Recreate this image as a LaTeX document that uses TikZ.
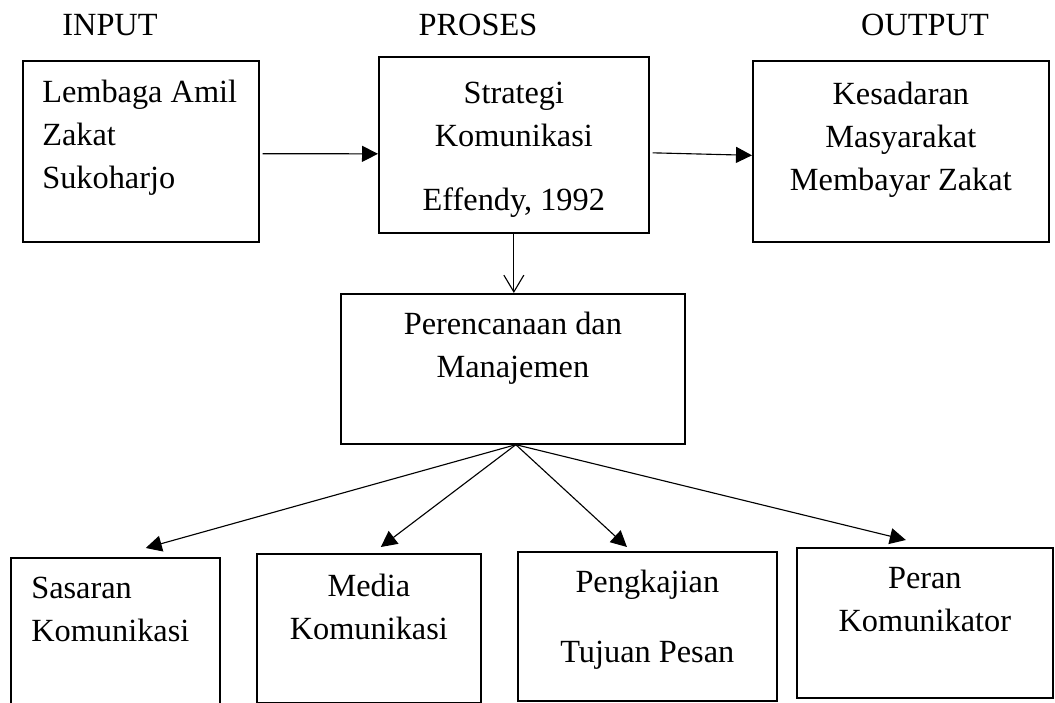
\documentclass[tikz,border=0pt]{standalone}
\usepackage{fontspec}
\setmainfont{Liberation Serif}
\usetikzlibrary{arrows.meta,positioning}

\begin{document}
\begin{tikzpicture}[
		kotak/.style={draw, line width=1.2pt, inner sep=0pt},
		isi/.style={inner sep=0pt, align=center, font=\fontsize{23}{30.5}\selectfont},
		judul/.style={inner sep=0pt, anchor=base, font=\fontsize{23}{30.5}\selectfont},
		panah/.style={line width=0.8pt, -{Triangle[length=0.4cm,width=0.4cm]}},
		panahbuka/.style={line width=0.8pt, -{Straight Barb[length=0.42cm,width=0.5cm]}}
	]
			%%%%% START %%%%%
			\useasboundingbox (0, 0) rectangle (26.375, 17.575);
			
			\node[judul] (input) at (2.75, 16.675) {INPUT};
			\node[judul] (proses) at (11.95, 16.675) {PROSES};
			\node[judul] (output) at (23.125, 16.675) {OUTPUT};
			
			\node[kotak, anchor=north west, minimum width=5.9cm, minimum height=4.525cm] (lembaga) at (0.55, 16.075) {};
			\node[kotak, anchor=north west, minimum width=6.75cm, minimum height=4.4cm] (strategi) at (9.45, 16.175) {};
			\node[kotak, anchor=north west, minimum width=7.4cm, minimum height=4.525cm] (kesadaran) at (18.8, 16.075) {};
			\node[kotak, anchor=north west, minimum width=8.6cm, minimum height=3.75cm] (perencanaan) at (8.5, 10.25) {};
			
			\node[kotak, anchor=north west, minimum width=5.225cm, minimum height=4.5cm] (sasaran) at (0.25, 3.65) {};
			\node[kotak, anchor=north west, minimum width=5.6cm, minimum height=3.725cm] (media) at (6.4, 3.75) {};
			\node[kotak, anchor=north west, minimum width=6.475cm, minimum height=3.725cm] (pengkajian) at (12.925, 3.8) {};
			\node[kotak, anchor=north west, minimum width=6.4cm, minimum height=3.75cm] (peran) at (19.9, 3.9) {};
			
			\node[isi, align=left, below right=0.5cm and 0.5cm of lembaga.north west] (tlembaga) {Lembaga Amil\\Zakat\\Sukoharjo};
			\node[isi, below=0.65cm of strategi.north] (tstrategi) {Strategi\\Komunikasi\\[15pt]Effendy, 1992};
			\node[isi, below=0.55cm of kesadaran.north] (tkesadaran) {Kesadaran\\Masyarakat\\Membayar Zakat};
			\node[isi, below=0.475cm of perencanaan.north] (tperencanaan) {Perencanaan dan\\Manajemen};
			
			\node[isi, align=left, below right=0.5cm and 0.525cm of sasaran.north west] (tsasaran) {Sasaran\\Komunikasi};
			\node[isi, below=0.525cm of media.north] (tmedia) {Media\\Komunikasi};
			\node[isi, below=0.475cm of pengkajian.north] (tpengkajian) {Pengkajian\\[19pt]Tujuan Pesan};
			\node[isi, below=0.5cm of peran.north] (tperan) {Peran\\Komunikator};
			
			\draw[panah] ([shift={(0.075,-0.06)}]lembaga.east) -- ([yshift=-0.225cm]strategi.west);
			\draw[panah] ([shift={(0.075,-0.2)}]strategi.east) -- ([yshift=-0.1cm]kesadaran.west);
			\draw[panahbuka] (strategi.south) -- (strategi.south |- perencanaan.north);
			
			\coordinate (pusat) at ([xshift=0.075cm]perencanaan.south);
			\draw[panah] (pusat) -- ([shift={(0.76,0.225)}]sasaran.north);
			\draw[panah] (pusat) -- ([shift={(0.3,0.15)}]media.north);
			\draw[panah] (pusat) -- ([shift={(-0.51,0.1)}]pengkajian.north);
			\draw[panah] (pusat) -- ([shift={(-0.475,0.175)}]peran.north);
			
			%%%%% END %%%%%
\end{tikzpicture}
\end{document}
